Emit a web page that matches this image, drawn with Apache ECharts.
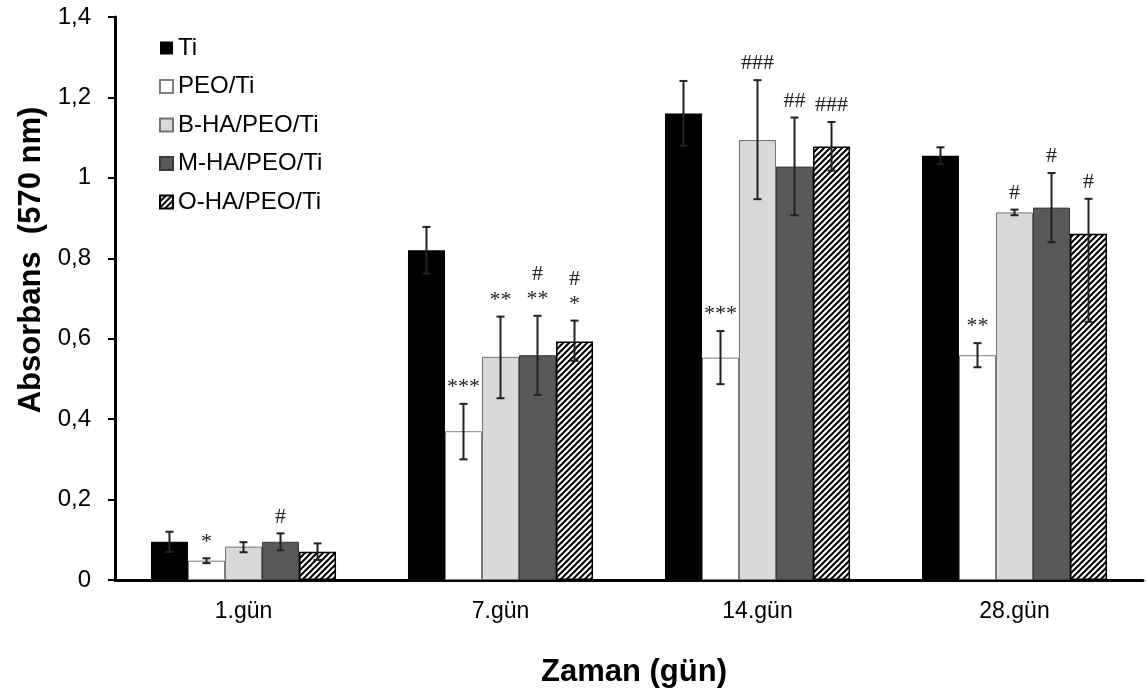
<!DOCTYPE html>
<html>
<head>
<meta charset="utf-8">
<script src="https://cdn.jsdelivr.net/npm/echarts@6/dist/echarts.min.js"></script>
<style>
  html, body { margin: 0; padding: 0; background: #fff; }
  #chart { width: 1146px; height: 693px; }
</style>
</head>
<body>
<div id="chart"></div>
<script>
const days = ['1.gün', '7.gün', '14.gün', '28.gün'];
const groups = ['Ti', 'PEO/Ti', 'B-HA/PEO/Ti', 'M-HA/PEO/Ti', 'O-HA/PEO/Ti'];

// mean absorbance per day
const ti   = [0.095, 0.82, 1.16, 1.055];
const peo  = [0.048, 0.37, 0.553, 0.559];
const bha  = [0.083, 0.555, 1.094, 0.914];
const mha  = [0.095, 0.559, 1.028, 0.926];
const oha  = [0.07, 0.593, 1.078, 0.861];

// error bar [low, high]
const tiErr  = [[0.07, 0.12], [0.762, 0.878], [1.08, 1.241], [1.034, 1.076]];
const peoErr = [[0.042, 0.054], [0.30, 0.438], [0.487, 0.619], [0.529, 0.589]];
const bhaErr = [[0.069, 0.094], [0.452, 0.655], [0.947, 1.243], [0.907, 0.921]];
const mhaErr = [[0.074, 0.116], [0.46, 0.657], [0.907, 1.15], [0.84, 1.012]];
const ohaErr = [[0.05, 0.091], [0.545, 0.645], [1.018, 1.139], [0.642, 0.948]];

// significance marks
const tiNote  = ['', '', '', ''];
const peoNote = ['*', '***', '***', '**'];
const bhaNote = ['', '**', '###', '#'];
const mhaNote = ['#', '#\n**', '##', '#'];
const ohaNote = ['', '#\n*', '###', '#'];

const yTicks = [0, 0.2, 0.4, 0.6, 0.8, 1, 1.2, 1.4];

const values = [ti, peo, bha, mha, oha];
const errs = [tiErr, peoErr, bhaErr, mhaErr, ohaErr];
const notes = [tiNote, peoNote, bhaNote, mhaNote, ohaNote];

const CAT_GAP = 0.28;

// hatch tile for O-HA
const tile = document.createElement('canvas');
tile.width = 6; tile.height = 6;
const tc = tile.getContext('2d');
tc.fillStyle = '#fff';
tc.fillRect(0, 0, 6, 6);
tc.strokeStyle = '#000';
tc.lineWidth = 2;
tc.beginPath();
tc.moveTo(-1, 7); tc.lineTo(7, -1);
tc.moveTo(-1, 1); tc.lineTo(1, -1);
tc.moveTo(5, 7); tc.lineTo(7, 5);
tc.stroke();

const styles = [
  { color: '#000000', borderColor: '#000000', borderWidth: 0 },
  { color: '#ffffff', borderColor: '#7f7f7f', borderWidth: 1 },
  { color: '#d9d9d9', borderColor: '#737373', borderWidth: 1 },
  { color: '#595959', borderColor: '#3a3a3a', borderWidth: 1 },
  { color: { image: tile, repeat: 'repeat' }, borderColor: '#000000', borderWidth: 1.5 }
];

const errData = [];
errs.forEach((arr, s) => arr.forEach((e, c) => errData.push([c, e[0], e[1], s])));

function renderErr(params, api) {
  const cat = api.value(0);
  const s = api.value(3);
  const band = api.size([1, 0])[0];
  const barW = band * (1 - CAT_GAP) / groups.length;
  const cx = api.coord([cat, 0])[0] + (s - 2) * barW;
  const lo = api.coord([cat, api.value(1)])[1];
  const hi = api.coord([cat, api.value(2)])[1];
  const cap = 4;
  const ls = { stroke: '#222', lineWidth: 2 };
  const children = [
    { type: 'line', shape: { x1: cx, y1: hi, x2: cx, y2: lo }, style: ls },
    { type: 'line', shape: { x1: cx - cap, y1: hi, x2: cx + cap, y2: hi }, style: ls },
    { type: 'line', shape: { x1: cx - cap, y1: lo, x2: cx + cap, y2: lo }, style: ls }
  ];
  const txt = notes[s][cat];
  if (txt) {
    children.push({
      type: 'text',
      x: cx, y: hi - 4,
      style: {
        text: txt,
        font: '22px "Liberation Serif", "Times New Roman", serif',
        fill: '#222',
        align: 'center',
        verticalAlign: 'bottom',
        lineHeight: 25
      }
    });
  }
  return { type: 'group', children };
}

const chart = echarts.init(document.getElementById('chart'));

const option = {
  animation: false,
  backgroundColor: '#fff',
  textStyle: { fontFamily: '"Liberation Sans", Arial, sans-serif' },
  grid: { left: 115, right: 3, top: 17, bottom: 113 },
  legend: {
    orient: 'vertical',
    left: 154,
    top: 31,
    icon: 'rect',
    itemWidth: 13,
    itemHeight: 13,
    itemGap: 14.5,
    data: groups,
    textStyle: { fontSize: 24, color: '#000', fontFamily: '"Liberation Sans", Arial, sans-serif' }
  },
  xAxis: {
    type: 'category',
    data: days,
    axisLine: { lineStyle: { color: '#000', width: 3 } },
    axisTick: { show: false },
    axisLabel: { color: '#000', fontSize: 23, margin: 20 },
    splitLine: { show: false }
  },
  yAxis: {
    type: 'value',
    min: yTicks[0],
    max: yTicks[yTicks.length - 1],
    interval: 0.2,
    axisLine: { show: true, lineStyle: { color: '#000', width: 3 } },
    axisTick: { show: true, length: 7, lineStyle: { color: '#000', width: 2 } },
    axisLabel: {
      color: '#000', fontSize: 24, margin: 24,
      formatter: v => String(+v.toFixed(1)).replace('.', ',')
    },
    splitLine: { show: false }
  },
  graphic: [
    {
      type: 'text', x: 31, y: 260, rotation: Math.PI / 2,
      style: {
        text: 'Absorbans  (570 nm)',
        font: 'bold 31px "Liberation Sans", Arial, sans-serif',
        fill: '#000', align: 'center', verticalAlign: 'middle'
      }
    },
    {
      type: 'text', x: 634, y: 672,
      style: {
        text: 'Zaman (gün)',
        font: 'bold 31px "Liberation Sans", Arial, sans-serif',
        fill: '#000', align: 'center', verticalAlign: 'middle'
      }
    }
  ],
  series: groups.map((name, i) => ({
    name,
    type: 'bar',
    data: values[i],
    barGap: '0%',
    barCategoryGap: (CAT_GAP * 100) + '%',
    itemStyle: styles[i],
    emphasis: { disabled: true }
  })).concat([{
    type: 'custom',
    name: 'err',
    renderItem: renderErr,
    data: errData,
    encode: { x: 0, y: [1, 2] },
    z: 10,
    silent: true
  }])
};

chart.setOption(option);
</script>
</body>
</html>
